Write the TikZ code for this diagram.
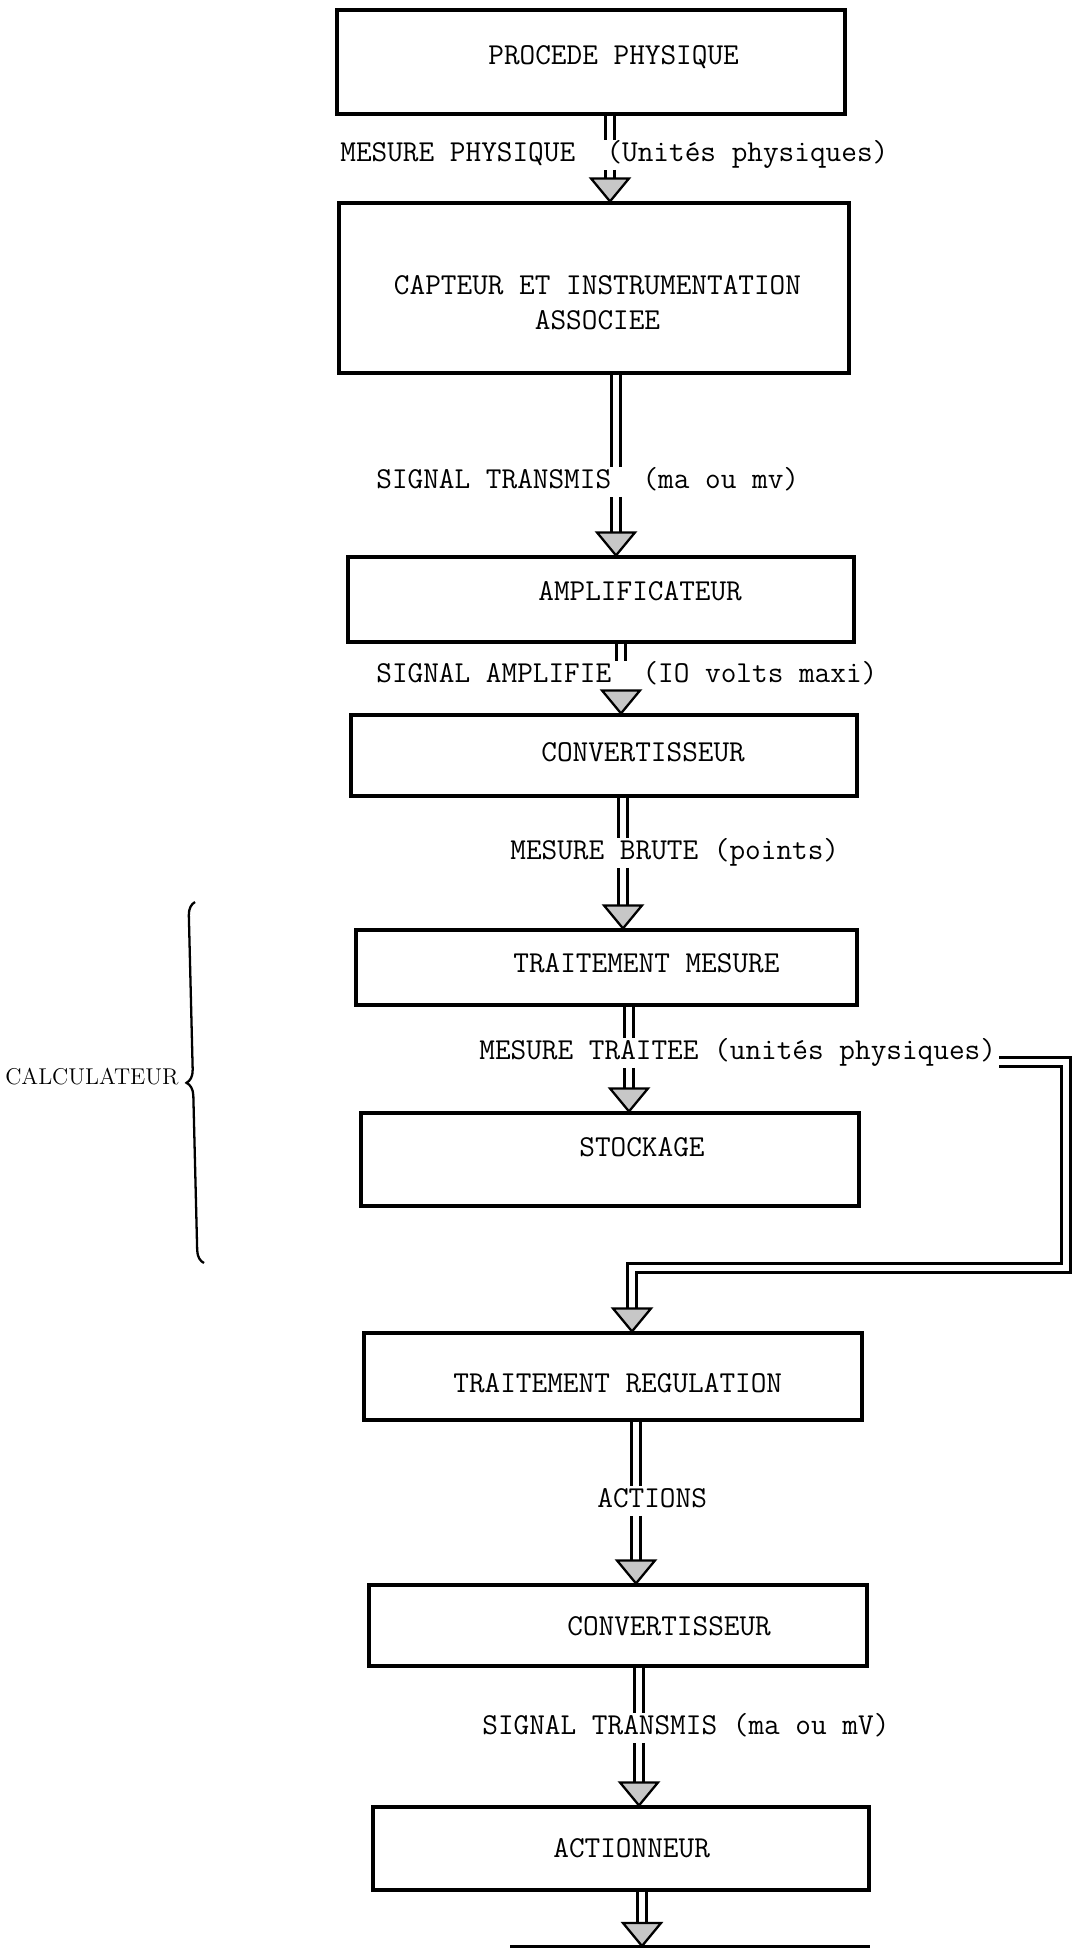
\documentclass[tikz,border=0pt]{standalone}
\usepackage{fontspec}
\usetikzlibrary{decorations.pathreplacing}

\begin{document}
\begin{tikzpicture}[
    box/.style={draw, rectangle, line width=1.8pt},
    tw/.style={font=\ttfamily\fontsize{17.3}{20}\selectfont},
    txt/.style={tw, anchor=west, inner sep=0.06cm, text height=0.36cm, text depth=0.1cm},
    shaft/.style={double, line width=1.7pt, double distance=3.6pt},
    head/.style={draw, line width=1.3pt, fill=black!22}]
    \useasboundingbox (0,0) rectangle (21.46,-39);
    % blocs
    \foreach \n/\x/\y/\w/\h in {1/11.82/-1.24/10.16/2.08, 2/11.88/-5.76/10.20/3.40,
        3/12.02/-11.99/10.12/1.70, 4/12.08/-15.11/10.12/1.62, 5/12.13/-19.35/10.02/1.50,
        6/12.20/-23.19/9.96/1.86, 7/12.26/-27.53/9.96/1.74, 8/12.36/-32.51/9.96/1.62,
        9/12.42/-36.97/9.92/1.66} {
        \node[box, minimum width=\w cm, minimum height=\h cm] (B\n) at (\x,\y) {};
    }
    % textes des blocs
    \node[txt] (T1) at (9.70,-1.16) {PROCEDE PHYSIQUE};
    \node[tw, align=center] (T2) at (11.95,-6.05) {CAPTEUR ET INSTRUMENTATION\\ASSOCIEE};
    \node[txt] (T3) at (10.70,-11.88) {AMPLIFICATEUR};
    \node[txt] (T4) at (10.76,-15.10) {CONVERTISSEUR};
    \node[txt] (T5) at (10.20,-19.32) {TRAITEMENT MESURE};
    \node[txt] (T6) at (11.52,-23.00) {STOCKAGE};
    \node[txt] (T7) at (9.00,-27.72) {TRAITEMENT REGULATION};
    \node[txt] (T8) at (11.28,-32.58) {CONVERTISSEUR};
    \node[txt] (T9) at (11.00,-37.02) {ACTIONNEUR};
    % signaux
    \node[txt] (S1) at (6.74,-3.10) {MESURE PHYSIQUE\ \ (Unités physiques)};
    \node[txt] (S2) at (7.46,-9.64) {SIGNAL TRANSMIS\ \ (ma ou mv)};
    \node[txt] (S3) at (7.46,-13.52) {SIGNAL AMPLIFIE\ \ (IO volts maxi)};
    \node[txt] (S4) at (10.14,-17.06) {MESURE BRUTE (points)};
    \node[txt] (S5) at (9.52,-21.06) {MESURE TRAITEE (unités physiques)};
    \node[txt] (S7) at (11.88,-30.02) {ACTIONS};
    \node[txt] (S8) at (9.58,-34.56) {SIGNAL TRANSMIS (ma ou mV)};
    % axes des fleches
    \foreach \n/\x in {1/12.20, 2/12.32, 3/12.42, 4/12.46, 5/12.58, 7/12.72, 8/12.78} {
        \coordinate (A\n) at (\x,0);
    }
    \foreach \a/\b in {1/2, 2/3, 3/4, 4/5, 5/6, 7/8, 8/9} {
        \draw[shaft] (B\a.south -| A\a) -- (S\a.north -| A\a);
        \draw[shaft, shorten >=0.3cm] (S\a.south -| A\a) -- (B\b.north -| A\a);
        \draw[head] (B\b.north -| A\a) -- ++(-0.38,0.46) -- ++(0.76,0) -- cycle;
    }
    % retour vers la regulation
    \coordinate (F1) at (21.32,-21.24);
    \coordinate (F2) at (21.32,-25.36);
    \coordinate (F3) at (12.64,-25.36);
    \draw[shaft, shorten >=0.3cm] (S5.east |- F1) -- (F1) -- (F2) -- (F3) -- (B7.north -| F3);
    \draw[head] (B7.north -| F3) -- ++(-0.38,0.46) -- ++(0.76,0) -- cycle;
    % sortie en bas
    \coordinate (E) at (12.84,-38.92);
    \draw[shaft, shorten >=0.3cm] (B9.south -| E) -- (E);
    \draw[head] (E) -- ++(-0.38,0.46) -- ++(0.76,0) -- cycle;
    \draw[line width=1.8pt] (10.2,-38.93) -- (17.40,-38.93);
    % accolade
    \draw[decorate, decoration={brace, amplitude=0.26cm}, line width=1.3pt] (4.08,-25.26) -- (3.90,-18.04);
    \node[font=\fontsize{13}{16}\selectfont, anchor=east, inner sep=0pt] (CAL) at (3.58,-21.54) {CALCULATEUR};
\end{tikzpicture}
\end{document}
